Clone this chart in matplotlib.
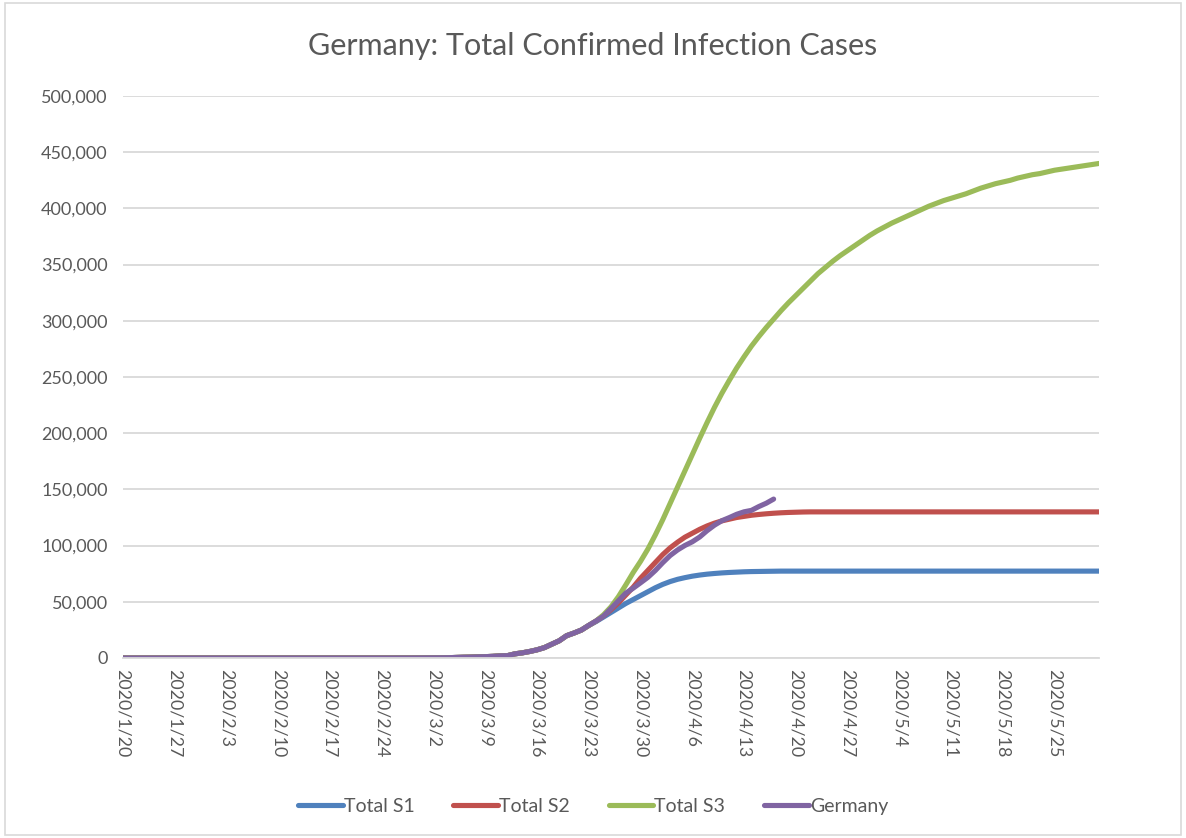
import datetime as dt

import matplotlib.pyplot as plt
from matplotlib.patches import Rectangle

plt.rcParams['font.family'] = ['Lato', 'DejaVu Sans']

start = dt.date(2020, 1, 20)

# Germany actual confirmed cases, daily from 2020/1/20 to 2020/4/17
germany = [0, 0, 0, 0, 0, 0, 0,
           1, 4, 4, 4, 5,
           8, 10, 12, 12, 12, 12, 13, 13, 14, 14,
           16, 16, 16, 16, 16, 16, 16, 16, 16, 16, 16, 16, 16, 16, 16,
           27, 46, 48, 79,
           130, 159, 196, 262, 482, 670, 799, 1040, 1176, 1457, 1908, 2078,
           3675, 4585, 5795, 7272, 9257, 12327, 15320, 19848, 22213, 24873,
           29056, 32986, 37323, 43938, 50871, 57695, 62095, 66885, 71808,
           77872, 84794, 91159, 96092, 100123, 103374, 107663, 113296, 118181,
           122171, 124908, 127854, 130072, 131359, 134753, 137698, 141397]

# scenarios follow the data until 2020/3/22, then from 2020/3/23 to 2020/5/31
split = 63
s1_tail = [29000, 32500, 36500, 40500, 44500, 48500, 52000, 55500, 59000, 62500,
           65500, 68000, 70000, 71500, 72800, 73800, 74600, 75200, 75700, 76100,
           76400, 76700, 76900, 77000, 77100, 77200] + [77300] * 44
s2_tail = [29000, 33000, 37500, 43000, 49000, 56000, 63000, 71000, 78000, 85000,
           92000, 98000, 103000, 107500, 111000, 114500, 117500, 120000, 122000,
           123500, 125000, 126000, 127000, 127700, 128300, 128800, 129200, 129500,
           129700, 129900] + [130000] * 40
s3_tail = [29000, 33000, 38500, 45500, 54500, 65000, 76000, 86000, 97000, 109500,
           123000, 137500, 152000, 166500, 181000, 195500, 209500, 223000, 235500,
           247000, 258000, 268000, 277500, 286000, 294000, 301500, 309000, 316000,
           322500, 329000, 335500, 342000, 347500, 353000, 358000, 362500, 367000,
           371500, 376000, 380000, 383500, 387000, 390000, 393000, 396000, 399000,
           402000, 404500, 407000, 409000, 411000, 413000, 415500, 418000, 420000,
           422000, 423500, 425000, 427000, 428500, 430000, 431000, 432500, 434000,
           435000, 436000, 437000, 438000, 439000, 440000]

series = [("Total S1", germany[:split] + s1_tail, '#4f81bd'),
          ("Total S2", germany[:split] + s2_tail, '#c0504d'),
          ("Total S3", germany[:split] + s3_tail, '#9bbb59'),
          ("Germany", germany, '#8064a2')]

fig = plt.figure(figsize=(11.86, 8.38), dpi=100)
ax = fig.add_axes([0.1037, 0.2148, 0.8229, 0.6706])

for name, vals, col in series:
    days = [start + dt.timedelta(days=i) for i in range(len(vals))]
    ax.plot(days, vals, color=col, lw=3.7, label=name, solid_capstyle='round')

ticks = [start + dt.timedelta(days=7 * i) for i in range(19)]
ax.set_xticks(ticks)
ax.set_xticklabels([f"{d.year}/{d.month}/{d.day}" for d in ticks],
                   rotation=-90, fontsize=12.8, color='#595959')
ax.set_xlim(start, start + dt.timedelta(days=132))
ax.set_ylim(0, 500000)
ax.set_yticks(range(0, 500001, 50000))
ax.yaxis.set_major_formatter(plt.FuncFormatter(lambda v, p: f"{int(v):,}"))
ax.tick_params(axis='y', labelsize=13, labelcolor='#595959', length=0, pad=11)
ax.tick_params(axis='x', length=0, pad=8)
ax.grid(axis='y', color='#d9d9d9', lw=1.3)
ax.set_axisbelow(True)
for s in ['top', 'right', 'left']:
    ax.spines[s].set_visible(False)
ax.spines['bottom'].set_color('#d9d9d9')
ax.spines['bottom'].set_linewidth(1.3)

fig.text(0.5, 0.945, "Germany: Total Confirmed Infection Cases", ha='center',
         va='center', fontsize=22, color='#595959')

fig.legend(loc='center', bbox_to_anchor=(0.5, 0.038), ncol=4, frameon=False,
           fontsize=14, handlelength=2.3, handletextpad=0.05, columnspacing=2.0,
           labelcolor='#595959')

fig.patches.append(Rectangle((0.004, 0.004), 0.992, 0.992, transform=fig.transFigure,
                             fill=False, edgecolor='#d9d9d9', lw=1.2))

fig.savefig('out.png', dpi=100, facecolor='white')
